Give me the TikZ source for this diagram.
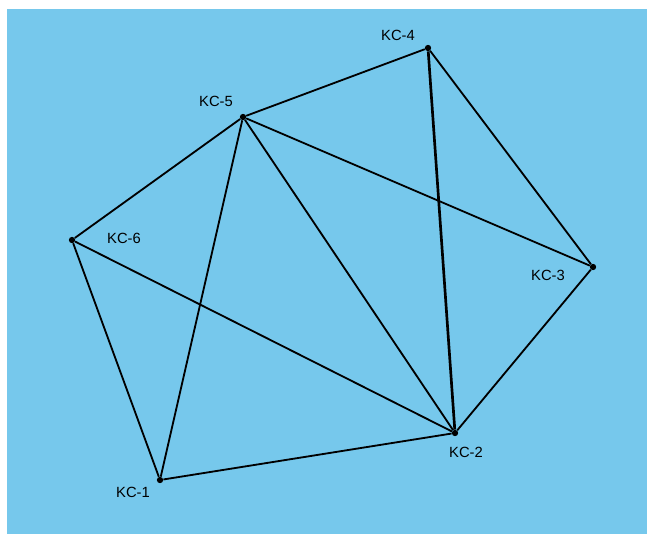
\documentclass[tikz,border=0pt]{standalone}
\usepackage{fontspec}
\setmainfont{Liberation Sans}
\usetikzlibrary{positioning}

\definecolor{skyback}{RGB}{118,200,236}

\begin{document}
\begin{tikzpicture}[x=0.025cm, y=-0.025cm,
  vertex/.style={circle, fill=black, inner sep=0pt, minimum size=4.5pt},
  lab/.style={font=\fontsize{10.5}{12}\selectfont, inner sep=1pt},
  link/.style={line width=1.3pt, line join=round}
]
\useasboundingbox (0,0) rectangle (656,538);
\fill[skyback] (7,9) rectangle (647,534);

\node[vertex] (kc1) at (160,480) {};
\node[vertex] (kc2) at (455,433) {};
\node[vertex] (kc3) at (593,267) {};
\node[vertex] (kc4) at (428,48) {};
\node[vertex] (kc5) at (243,117) {};
\node[vertex] (kc6) at (72,240) {};

\node[lab] (lab1) at (133,492) {KC-1};
\node[lab] (lab2) at (466,452) {KC-2};
\node[lab] (lab3) at (548,275) {KC-3};
\node[lab] (lab4) at (398,35) {KC-4};
\node[lab] (lab5) at (216,101) {KC-5};
\node[lab] (lab6) at (124,238) {KC-6};

\draw[link] (kc6) -- (kc5) -- (kc4) -- (kc3) -- (kc2) -- (kc1) -- (kc6);
\draw[link] (kc6) -- (kc2);
\draw[link] (kc5) -- (kc1);
\draw[link] (kc5) -- (kc2);
\draw[link] (kc5) -- (kc3);
\draw[link, line width=1.9pt] (kc4) -- (kc2);
\end{tikzpicture}
\end{document}
